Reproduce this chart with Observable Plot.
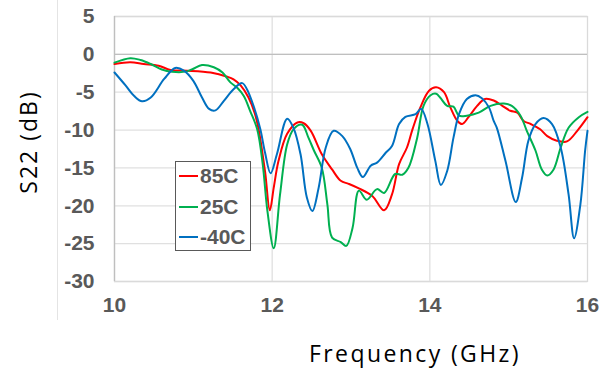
<!DOCTYPE html>
<html><head><meta charset="utf-8">
<script src="https://cdn.jsdelivr.net/npm/d3@7"></script>
<script src="https://cdn.jsdelivr.net/npm/@observablehq/plot@0.6"></script>
<style>
body{margin:0;background:#fff;}
#wrap{position:relative;width:614px;height:371px;overflow:hidden;}
#wrap svg{position:absolute;left:0;top:0;}
.vline{position:absolute;left:57px;top:0;width:0;height:320px;border-left:1px solid #E4E4E4;}
.ylab{position:absolute;left:28px;top:142px;transform:translate(-50%,-50%) rotate(-90deg);font-family:"Open Sans",sans-serif;font-size:23px;letter-spacing:2px;color:#000;white-space:nowrap;}
.xlab{position:absolute;left:415px;top:353px;transform:translate(-50%,-50%);font-family:"Open Sans",sans-serif;font-size:23px;letter-spacing:2.4px;color:#000;white-space:nowrap;}
.legend{position:absolute;left:175px;top:161px;width:76px;height:90px;border:1px solid #595959;background:#fff;box-sizing:border-box;}
.item{position:absolute;left:3px;height:24px;display:flex;align-items:center;font-family:"Liberation Sans",Arial,sans-serif;font-weight:bold;font-size:21px;color:#595959;}
.sw{width:19px;height:2px;margin-right:2px;}
</style></head><body><div id="wrap"></div>
<script>
const seriesNames = ["85C", "25C", "-40C"];
const seriesColors = ["#FF0000", "#00B050", "#0070C0"];
const xTicks = [10, 12, 14, 16];
const yTicks = [5, 0, -5, -10, -15, -20, -25, -30];

const freq85 = [10, 10.2, 10.37, 10.56, 10.71, 10.92, 11.22, 11.43, 11.51, 11.6, 11.7, 11.78, 11.83, 11.91, 11.97, 12.02, 12.08, 12.19, 12.32, 12.4, 12.49, 12.63, 12.76, 12.87, 12.97, 13.1, 13.27, 13.42, 13.52, 13.61, 13.71, 13.78, 13.88, 13.99, 14.08, 14.18, 14.26, 14.35, 14.41, 14.49, 14.6, 14.7, 14.81, 14.92, 15.02, 15.11, 15.19, 15.28, 15.4, 15.49, 15.61, 15.74, 15.87, 16.0];
const s85 = [-1.27, -1.05, -1.27, -1.5, -2.06, -2.15, -2.4, -2.95, -3.3, -4.1, -5.7, -7.8, -10.0, -15.5, -20.6, -17.6, -14.1, -10.5, -9.0, -9.1, -10.1, -13.2, -15.2, -16.7, -17.1, -17.7, -18.7, -20.6, -18.5, -14.5, -12.3, -9.9, -7.0, -4.8, -4.35, -5.0, -7.0, -8.8, -9.2, -8.3, -6.8, -5.9, -6.1, -6.8, -7.45, -7.7, -8.8, -9.2, -9.9, -10.8, -11.4, -11.5, -10.1, -8.3];

const freq25 = [10, 10.2, 10.33, 10.46, 10.6, 10.73, 10.92, 11.0, 11.11, 11.26, 11.37, 11.47, 11.56, 11.64, 11.72, 11.81, 11.88, 11.94, 12.02, 12.1, 12.19, 12.27, 12.38, 12.46, 12.53, 12.63, 12.7, 12.76, 12.87, 12.94, 13.02, 13.1, 13.2, 13.33, 13.42, 13.56, 13.65, 13.73, 13.84, 13.92, 14.01, 14.08, 14.13, 14.22, 14.3, 14.37, 14.47, 14.62, 14.77, 14.94, 15.04, 15.15, 15.23, 15.34, 15.42, 15.49, 15.57, 15.66, 15.76, 15.89, 16.0];
const s25 = [-1.1, -0.5, -0.74, -1.27, -2.0, -2.3, -2.25, -1.9, -1.4, -1.7, -2.4, -3.7, -4.45, -5.5, -7.45, -9.9, -14.5, -20.7, -25.6, -18.5, -11.9, -9.9, -9.3, -11.0, -12.7, -15.0, -19.8, -24.2, -24.8, -25.3, -22.9, -18.0, -19.2, -17.8, -18.3, -15.8, -15.9, -14.95, -11.0, -6.8, -5.4, -5.2, -5.7, -6.8, -6.9, -8.1, -8.1, -7.7, -6.8, -6.5, -6.8, -8.1, -10.1, -12.7, -15.2, -16.0, -15.2, -12.3, -9.7, -8.3, -7.6];

const freqM40 = [10, 10.14, 10.25, 10.35, 10.46, 10.63, 10.77, 10.88, 11.0, 11.11, 11.2, 11.28, 11.39, 11.51, 11.62, 11.68, 11.77, 11.85, 11.91, 11.98, 12.06, 12.19, 12.27, 12.36, 12.44, 12.51, 12.59, 12.68, 12.78, 12.89, 12.99, 13.08, 13.15, 13.25, 13.33, 13.44, 13.52, 13.61, 13.69, 13.82, 13.89, 13.97, 14.07, 14.14, 14.22, 14.3, 14.37, 14.47, 14.58, 14.66, 14.75, 14.81, 14.85, 14.96, 15.09, 15.17, 15.25, 15.34, 15.44, 15.55, 15.66, 15.76, 15.83, 15.91, 15.97, 16.0];
const sM40 = [-2.4, -4.1, -5.5, -6.2, -5.7, -3.25, -1.8, -2.15, -3.5, -5.7, -7.2, -7.4, -6.1, -4.6, -3.8, -4.6, -7.0, -9.9, -13.0, -15.7, -13.2, -8.5, -9.7, -13.2, -18.9, -20.7, -17.6, -12.3, -10.1, -10.8, -12.5, -15.0, -16.2, -14.7, -14.3, -13.0, -12.1, -9.2, -8.25, -7.9, -7.2, -9.2, -14.1, -17.25, -15.4, -11.0, -7.9, -5.9, -5.4, -5.8, -7.0, -8.8, -9.7, -14.1, -19.5, -16.3, -11.4, -9.2, -8.4, -9.2, -12.3, -18.5, -24.3, -19.8, -12.7, -10.1];

const freqs = [freq85, freq25, freqM40];
const vals = [s85, s25, sM40];
const data = seriesNames.flatMap((name, i) => freqs[i].map((f, j) => ({series: name, f, v: vals[i][j]})));

const plot = Plot.plot({
  width: 614, height: 371,
  marginLeft: 114, marginRight: 27, marginTop: 16, marginBottom: 90,
  style: {fontFamily: "'Liberation Sans', Arial, sans-serif", fontSize: "21px", fontWeight: "bold", color: "#595959", background: "transparent"},
  x: {domain: [10, 16]},
  y: {domain: [-30, 5]},
  color: {domain: seriesNames, range: seriesColors},
  marks: [
    Plot.gridY(yTicks, {stroke: "#E0E0E0", strokeOpacity: 1, strokeWidth: 1.3}),
    Plot.gridX([12, 14], {stroke: "#E0E0E0", strokeOpacity: 1, strokeWidth: 1.3}),
    Plot.frame({stroke: "#DADADA", strokeWidth: 1.3}),
    Plot.ruleY([0], {stroke: "#BFBFBF", strokeWidth: 1.3}),
    Plot.ruleX([10], {stroke: "#BFBFBF", strokeWidth: 1.3}),
    Plot.axisY(yTicks, {tickSize: 0, tickPadding: 20, label: null, tickFormat: d => String(d)}),
    Plot.axisX(xTicks, {tickSize: 0, tickPadding: 16, label: null}),
    Plot.line(data, {x: "f", y: "v", z: "series", stroke: "series", curve: "catmull-rom", strokeWidth: 2})
  ]
});

const wrap = document.getElementById("wrap");
const vl = document.createElement("div"); vl.className = "vline"; wrap.appendChild(vl);
wrap.appendChild(plot);
const yl = document.createElement("div"); yl.className = "ylab"; yl.textContent = "S22 (dB)"; wrap.appendChild(yl);
const xl = document.createElement("div"); xl.className = "xlab"; xl.textContent = "Frequency (GHz)"; wrap.appendChild(xl);
const lg = document.createElement("div"); lg.className = "legend";
seriesNames.forEach((name, i) => {
  const it = document.createElement("div"); it.className = "item";
  it.style.top = (2 + i * 30.5) + "px";
  const sw = document.createElement("span"); sw.className = "sw"; sw.style.background = seriesColors[i];
  const tx = document.createElement("span"); tx.textContent = name;
  it.appendChild(sw); it.appendChild(tx); lg.appendChild(it);
});
wrap.appendChild(lg);
</script>
</body></html>
